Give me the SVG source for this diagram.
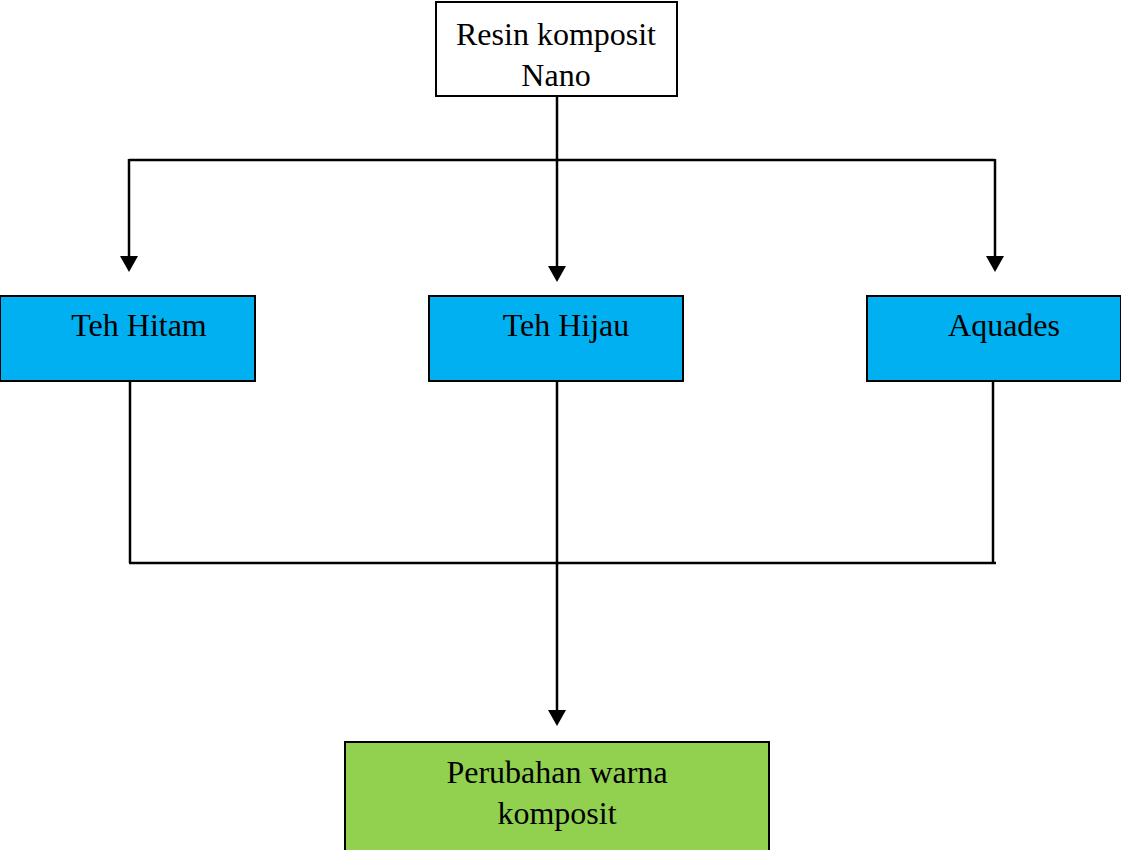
<svg xmlns="http://www.w3.org/2000/svg" width="1121" height="850" viewBox="0 0 1121 850">
<style>
.box{stroke:#000;stroke-width:2}
.t{font-family:"Liberation Serif","Times New Roman",serif;font-size:32px;fill:#000;text-anchor:middle}
.c{fill:none;stroke:#000;stroke-width:2.5}
.ah{fill:#000}
</style>
<rect width="1121" height="850" fill="#fff"/>
<g id="connectors">
<path class="c" d="M557,96 V267"/>
<path class="c" d="M129,160 H995"/>
<path class="c" d="M129,159 V257"/>
<path class="c" d="M995,159 V257"/>
<path class="c" d="M130,381 V563"/>
<path class="c" d="M993,381 V563"/>
<path class="c" d="M129,563 H996"/>
<path class="c" d="M557,381 V711"/>
<polygon class="ah" points="120,256 138,256 129,272"/>
<polygon class="ah" points="548,266 566,266 557,282"/>
<polygon class="ah" points="986,256 1004,256 995,272"/>
<polygon class="ah" points="548,710 566,710 557,726"/>
</g>
<g id="node-resin">
<rect class="box" x="436" y="2" width="241" height="94" fill="#fff"/>
<text class="t" x="556" y="45">Resin komposit</text>
<text class="t" x="556" y="86">Nano</text>
</g>
<g id="node-teh-hitam">
<rect class="box" x="0" y="296" width="255" height="85" fill="#00B0F0"/>
<text class="t" x="139" y="336">Teh Hitam</text>
</g>
<g id="node-teh-hijau">
<rect class="box" x="429" y="296" width="254" height="85" fill="#00B0F0"/>
<text class="t" x="566" y="336">Teh Hijau</text>
</g>
<g id="node-aquades">
<rect class="box" x="867" y="296" width="254" height="85" fill="#00B0F0"/>
<text class="t" x="1004" y="336">Aquades</text>
</g>
<g id="node-perubahan">
<rect class="box" x="345" y="742" width="424" height="112" fill="#92D050"/>
<text class="t" x="557" y="783">Perubahan warna</text>
<text class="t" x="557" y="824">komposit</text>
</g>
</svg>
